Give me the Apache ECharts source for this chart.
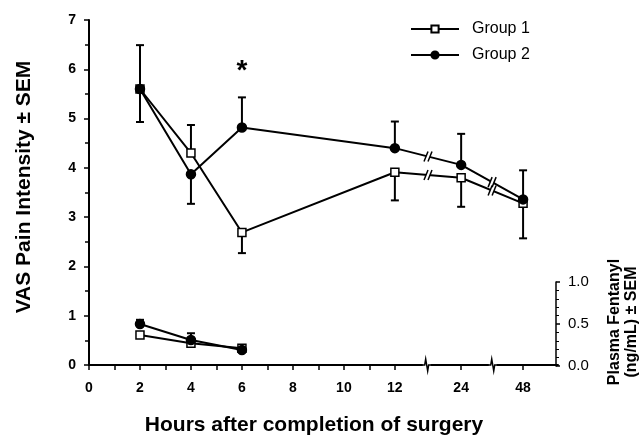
<!DOCTYPE html>
<html>
<head>
<meta charset="utf-8">
<script src="https://cdn.jsdelivr.net/npm/echarts@6/dist/echarts.min.js"></script>
<style>html,body{margin:0;padding:0;background:#fff}#c{width:639px;height:437px}</style>
</head>
<body>
<div id="c"></div>
<script>
// ---------- data ----------
const hours = [2, 4, 6, 12, 24, 48];
const g1Vas = [5.60, 4.30, 2.69, 3.91, 3.80, 3.28];
const g2Vas = [5.60, 3.87, 4.82, 4.40, 4.06, 3.36];
const g1VasSem = [0.67, 0.57, 0.42, 0.57, 0.59, 0.71];
const g2VasSem = [0.89, 0.60, 0.61, 0.54, 0.63, 0.59];
const g1VasDir = [-1, 1, -1, -1, -1, -1];
const g2VasDir = [1, -1, 1, 1, 1, 1];

const plasmaHours = [2, 4, 6];
const g1Plasma = [0.37, 0.27, 0.21];
const g2Plasma = [0.50, 0.31, 0.19];
const g1PlasmaSem = [0.02, 0.03, 0.02];
const g2PlasmaSem = [0.05, 0.08, 0.02];
const g1PlasmaDir = [-1, -1, -1];
const g2PlasmaDir = [1, 1, 1];

const tickHours = [0, 2, 4, 6, 8, 10, 12, 24, 48];
const minorTickHours = [1, 3, 5, 7, 9, 11];
const sigHour = 6;
const sigLabel = '*';

// ---------- broken time scale (0-12 linear, then compressed segments) ----------
const AXIS_END = 18.4;
function hourPos(h) {
  if (h <= 12) return h;
  if (h <= 24) return 12 + (h - 12) / 12 * 2.6;
  return 14.6 + (h - 24) / 24 * 2.43;
}
const axisBreakHours = [[12, 24, 0.48], [24, 48, 0.51]]; // fraction along segment

const FONT = "'Liberation Sans', Arial, Helvetica, sans-serif";
const chart = echarts.init(document.getElementById('c'), null, {renderer: 'canvas'});

function errSeries(name, xs, vals, sems, dirs, xi, yi) {
  return {
    type: 'custom', name: name, xAxisIndex: xi, yAxisIndex: yi, z: 3,
    data: xs.map((h, i) => [hourPos(h), vals[i], vals[i] + dirs[i] * sems[i]]),
    renderItem: function (params, api) {
      const p0 = api.coord([api.value(0), api.value(1)]);
      const p1 = api.coord([api.value(0), api.value(2)]);
      const st = {stroke: '#000', lineWidth: 2};
      return {type: 'group', children: [
        {type: 'line', shape: {x1: p0[0], y1: p0[1], x2: p1[0], y2: p1[1]}, style: st},
        {type: 'line', shape: {x1: p1[0] - 4, y1: p1[1], x2: p1[0] + 4, y2: p1[1]}, style: st}
      ]};
    }
  };
}

function lineSeries(name, xs, vals, filled, xi, yi) {
  return {
    type: 'line', name: name, xAxisIndex: xi, yAxisIndex: yi, z: filled ? 5 : 4,
    data: xs.map((h, i) => [hourPos(h), vals[i]]),
    symbol: filled ? 'circle' : 'rect',
    symbolSize: filled ? 9 : 8,
    showAllSymbol: true,
    lineStyle: {color: '#000', width: 2},
    itemStyle: {color: filled ? '#000' : '#fff', borderColor: '#000', borderWidth: 1.5},
    emphasis: {disabled: true}
  };
}

const option = {
  animation: false,
  backgroundColor: '#fff',
  textStyle: {fontFamily: FONT, color: '#000'},
  grid: [
    {left: 89, right: 81, top: 20, bottom: 72},
    {left: 89, right: 81, top: 282, bottom: 71}
  ],
  legend: {
    data: ['Group 1', 'Group 2'],
    orient: 'vertical', left: 410, top: 21, padding: 0,
    itemWidth: 48, itemHeight: 9, itemGap: 10,
    textStyle: {fontSize: 16, color: '#000', fontFamily: FONT, padding: [0, 0, 0, 8]},
    selectedMode: false
  },
  xAxis: [
    {
      type: 'value', gridIndex: 0, min: 0, max: AXIS_END,
      axisLine: {onZero: false, lineStyle: {color: '#000', width: 2}},
      axisTick: {show: true, length: 5, lineStyle: {color: '#000', width: 1.5},
        customValues: tickHours.concat(minorTickHours).map(hourPos)},
      axisLabel: {
        customValues: tickHours.map(hourPos), margin: 16,
        fontSize: 14, fontWeight: 'bold', color: '#000', fontFamily: FONT,
        formatter: function (v) {
          for (let i = 0; i < tickHours.length; i++) if (Math.abs(hourPos(tickHours[i]) - v) < 1e-6) return String(tickHours[i]);
          return '';
        }
      },
      splitLine: {show: false}
    },
    {type: 'value', gridIndex: 1, min: 0, max: AXIS_END, show: false}
  ],
  yAxis: [
    {
      type: 'value', gridIndex: 0, min: 0, max: 7, interval: 1,
      axisLine: {show: true, onZero: false, lineStyle: {color: '#000', width: 2}},
      axisTick: {show: true, length: 5, lineStyle: {color: '#000', width: 1.5}},
      minorTick: {show: true, splitNumber: 2, length: 4, lineStyle: {color: '#000', width: 1.5}},
      axisLabel: {fontSize: 14, fontWeight: 'bold', color: '#000', margin: 13, fontFamily: FONT},
      splitLine: {show: false}
    },
    {
      type: 'value', gridIndex: 1, position: 'right', offset: -2, min: 0, max: 1, interval: 0.5,
      axisLine: {show: true, onZero: false, lineStyle: {color: '#000', width: 1.5}},
      axisTick: {show: true, length: 4, lineStyle: {color: '#000', width: 1.5}},
      minorTick: {show: true, splitNumber: 5, length: 3, lineStyle: {color: '#000', width: 1}},
      axisLabel: {fontSize: 15, color: '#000', margin: 12, fontFamily: FONT,
        formatter: v => v.toFixed(1)},
      splitLine: {show: false}
    }
  ],
  series: [
    errSeries('e1', hours, g1Vas, g1VasSem, g1VasDir, 0, 0),
    errSeries('e2', hours, g2Vas, g2VasSem, g2VasDir, 0, 0),
    lineSeries('Group 1', hours, g1Vas, false, 0, 0),
    lineSeries('Group 2', hours, g2Vas, true, 0, 0),
    errSeries('pe1', plasmaHours, g1Plasma, g1PlasmaSem, g1PlasmaDir, 1, 1),
    errSeries('pe2', plasmaHours, g2Plasma, g2PlasmaSem, g2PlasmaDir, 1, 1),
    lineSeries('Group 1', plasmaHours, g1Plasma, false, 1, 1),
    lineSeries('Group 2', plasmaHours, g2Plasma, true, 1, 1)
  ]
};
chart.setOption(option);

// ---------- decorations computed from the axes ----------
const gfx = [];
const toPx = (x, y) => chart.convertToPixel({xAxisIndex: 0, yAxisIndex: 0}, [x, y]);

// axis break zigzags
axisBreakHours.forEach(([a, b, f]) => {
  const pa = hourPos(a), pb = hourPos(b);
  const p = toPx(pa + (pb - pa) * f, 0);
  const x = p[0], y = p[1];
  gfx.push({type: 'rect', z: 100, shape: {x: x - 4, y: y - 2, width: 8, height: 4}, style: {fill: '#fff'}});
  gfx.push({type: 'polyline', z: 101, shape: {points: [[x - 5, y], [x - 2, y], [x - 1, y - 6], [x + 1, y + 6], [x + 2, y], [x + 5, y]]},
    style: {stroke: '#000', lineWidth: 1.5, fill: null}});
});

// series break marks "//"
[g1Vas, g2Vas].forEach(vals => {
  [[3, 4], [4, 5]].forEach(([i, j]) => {
    const p1 = toPx(hourPos(hours[i]), vals[i]);
    const p2 = toPx(hourPos(hours[j]), vals[j]);
    const mx = (p1[0] + p2[0]) / 2, my = (p1[1] + p2[1]) / 2;
    gfx.push({type: 'polygon', z: 100, shape: {points: [[mx - 4, my + 5], [mx, my - 5], [mx + 4, my - 5], [mx, my + 5]]}, style: {fill: '#fff'}});
    [-2, 2].forEach(d => {
      gfx.push({type: 'line', z: 101, shape: {x1: mx + d - 2, y1: my + 5, x2: mx + d + 2, y2: my - 5}, style: {stroke: '#000', lineWidth: 1.5}});
    });
  });
});

// significance asterisk
const sp = toPx(hourPos(sigHour), 5.95);
gfx.push({type: 'text', z: 102, x: sp[0], y: sp[1],
  style: {text: sigLabel, font: 'bold 28px ' + FONT, fill: '#000', align: 'center', verticalAlign: 'middle'}});

// axis titles
gfx.push({type: 'text', z: 102, x: 24, y: 187, rotation: Math.PI / 2,
  style: {text: 'VAS Pain Intensity \u00b1 SEM', font: 'bold 21px ' + FONT, fill: '#000', align: 'center', verticalAlign: 'middle'}});
gfx.push({type: 'text', z: 102, x: 314, y: 425,
  style: {text: 'Hours after completion of surgery', font: 'bold 21px ' + FONT, fill: '#000', align: 'center', verticalAlign: 'middle'}});
gfx.push({type: 'text', z: 102, x: 623, y: 322, rotation: Math.PI / 2,
  style: {text: 'Plasma Fentanyl\n(ng/mL) \u00b1 SEM', font: 'bold 16px ' + FONT, lineHeight: 17, fill: '#000', align: 'center', verticalAlign: 'middle'}});

chart.setOption({graphic: {elements: gfx}});
</script>
</body>
</html>
